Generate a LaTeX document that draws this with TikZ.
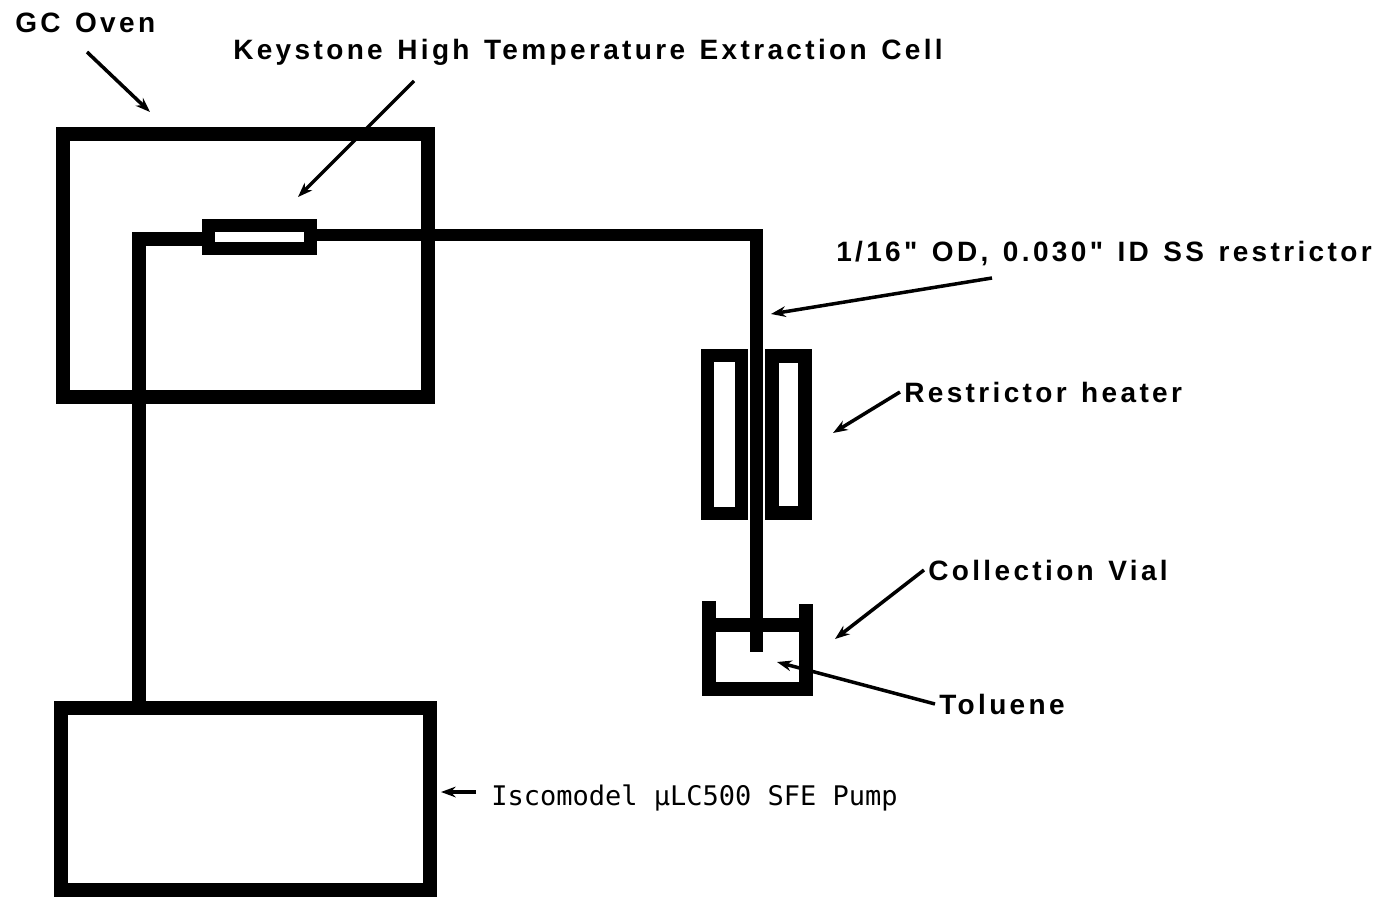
\documentclass[tikz,border=0pt]{standalone}
\usepackage{fontspec}
\usepackage{tikz}
\usetikzlibrary{positioning, arrows.meta}
\newfontfamily\labelfont[LetterSpace=12,WordSpace=1.3]{Liberation Sans}
\newfontfamily\pumpfont{DejaVu Sans Mono}
\newcommand{\pix}{0.75pt}
\tikzset{
	part/.style={draw, line width=14*\pix, inner sep=0pt},
	tube/.style={line width=14*\pix},
	leader/.style={-{Stealth[length=11pt, width=8pt]}, line width=3.5*\pix},
	tag/.style={anchor=base west, inner sep=3pt, font=\labelfont\bfseries\fontsize{21}{24}\selectfont}
}
\begin{document}
\begin{tikzpicture}[x=\pix, y=-\pix]
	\useasboundingbox (0,0) rectangle (1385,899);
	\node[part, minimum width=365*\pix, minimum height=263.5*\pix] (oven) at (245.5,265.25) {};
	\node[part, minimum width=369*\pix, minimum height=182*\pix] (pump) at (245.5,799) {};
	\node[part, line width=13*\pix, minimum width=102*\pix, minimum height=22.5*\pix] (cell) at (259,236.75) {};
	\node[part, line width=13*\pix, minimum width=34*\pix, minimum height=158*\pix] (heaterleft) at (724.5,434) {};
	\node[part, minimum width=33*\pix, minimum height=157*\pix] (heaterright) [right=17*\pix of heaterleft] {};
	\coordinate (bendleft) at (139,239);
	\coordinate (bendright) at (756.5,235);
	\coordinate (tubeend) at (756.5,652);
	\coordinate (vialleft) at (709,601);
	\coordinate (vialright) at (806,604);
	\coordinate (vialbase) at (806,688.5);
	\coordinate (liquid) at (709,624.5);
	\draw[tube] (pump.north -| bendleft) -- (bendleft) -- (cell.west |- bendleft);
	\draw[tube, line width=12.5*\pix] (cell.east |- bendright) -- (bendright) -- (tubeend);
	\draw[tube] (vialleft) |- (vialbase) -- (vialright);
	\draw[tube] (liquid) -- (liquid -| vialright);
	\node[tag] (ovenlabel) at (11,33) {GC Oven};
	\node[tag] (celllabel) at (229,60) {Keystone High Temperature Extraction Cell};
	\node[tag] (restrictorlabel) at (832,261) {1/16" OD, 0.030" ID SS restrictor};
	\node[tag] (heaterlabel) at (900,402) {Restrictor heater};
	\node[tag] (viallabel) at (924,580) {Collection Vial};
	\node[tag] (toluenelabel) at (935,714) {Toluene};
	\node[tag, font=\pumpfont\fontsize{20.25}{24}\selectfont] (pumplabel) at (487,805) {Iscomodel µLC500 SFE Pump};
	\coordinate (oventail) at (87,52);
	\coordinate (oventip) at (150,112);
	\coordinate (celltail) at (414,81);
	\coordinate (celltip) at (298,197);
	\coordinate (restrictortail) at (992,278);
	\coordinate (restrictortip) at (771,314);
	\coordinate (heatertip) at (833,433);
	\coordinate (vialtip) at (835,639);
	\coordinate (toluenetip) at (777,662);
	\coordinate (pumptail) at (476,792);
	\coordinate (pumptip) at (441,792);
	\path[leader]
	(oventail) edge (oventip)
	(celltail) edge (celltip)
	(restrictortail) edge (restrictortip)
	(heaterlabel.west) edge (heatertip)
	(viallabel.west) edge (vialtip)
	(toluenelabel.west) edge (toluenetip)
	(pumptail) edge (pumptip);
\end{tikzpicture}
\end{document}
